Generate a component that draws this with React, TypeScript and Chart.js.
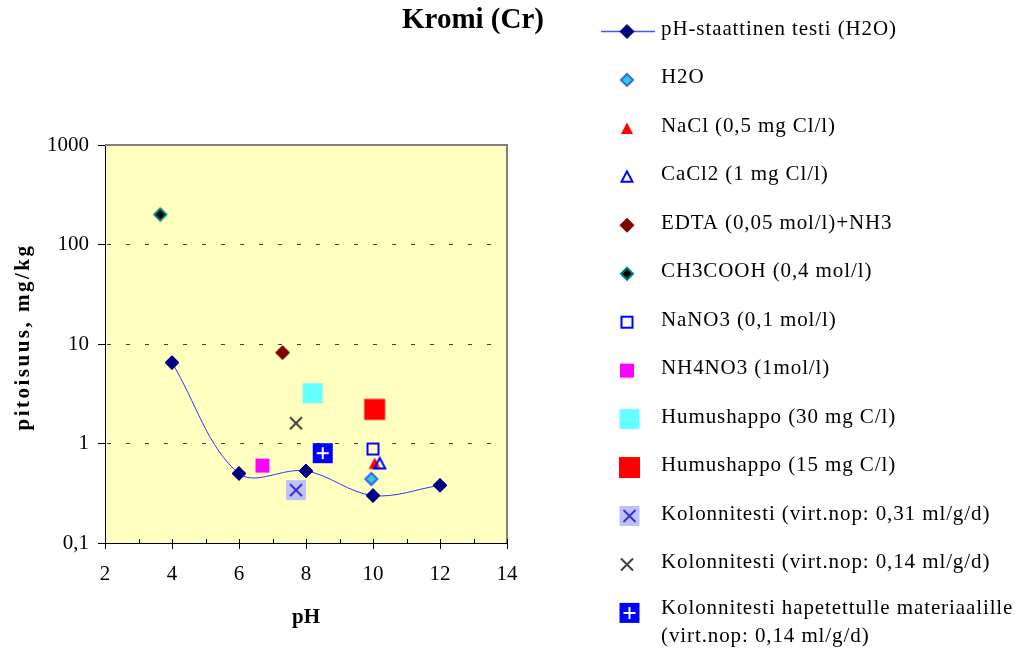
import React, { useEffect, useRef } from 'react';
import { Chart, registerables } from 'chart.js';

Chart.register(...registerables);

// ---------- data ----------
const chartTitle = 'Kromi (Cr)';
const xAxisTitle = 'pH';
const yAxisTitle = 'pitoisuus, mg/kg';

const xMin = 2;
const xMax = 14;
const xStep = 2;
const yTickValues = [0.1, 1, 10, 100, 1000];
const yTickLabels = ['0,1', '1', '10', '100', '1000'];

const staticLabel = 'pH-staattinen testi (H2O)';
const staticPH = [4, 6, 8, 10, 12];
const staticConc = [6.5, 0.5, 0.53, 0.3, 0.38];

const testLabels = [
  ['H2O'],
  ['NaCl (0,5 mg Cl/l)'],
  ['CaCl2 (1 mg Cl/l)'],
  ['EDTA (0,05 mol/l)+NH3'],
  ['CH3COOH (0,4 mol/l)'],
  ['NaNO3 (0,1 mol/l)'],
  ['NH4NO3 (1mol/l)'],
  ['Humushappo (30 mg C/l)'],
  ['Humushappo (15 mg C/l)'],
  ['Kolonnitesti (virt.nop: 0,31 ml/g/d)'],
  ['Kolonnitesti (virt.nop: 0,14 ml/g/d)'],
  ['Kolonnitesti hapetettulle materiaalille', '(virt.nop: 0,14 ml/g/d)'],
];
const testPH = [9.95, 10.05, 10.2, 7.3, 3.65, 10.0, 6.7, 8.2, 10.05, 7.7, 7.7, 8.5];
const testConc = [0.44, 0.63, 0.63, 8.2, 200, 0.88, 0.6, 3.2, 2.2, 0.34, 1.6, 0.8];

// ---------- styles ----------
const testMarkers = [
  'h2o', 'naclTri', 'cacl2Tri', 'edta', 'ch3cooh', 'nano3',
  'nh4no3', 'humus30', 'humus15', 'kol031', 'kol014', 'kolHap',
];
const bigMarkers = ['humus30', 'humus15', 'kol031', 'kolHap'];
const SERIF = '"Liberation Serif", "Times New Roman", serif';

function drawMarker(ctx: CanvasRenderingContext2D, kind: string, x: number, y: number) {
  ctx.save();
  ctx.setLineDash([]);
  const diamond = (r: number, fill: string, stroke?: string, lw?: number) => {
    ctx.beginPath();
    ctx.moveTo(x, y - r);
    ctx.lineTo(x + r, y);
    ctx.lineTo(x, y + r);
    ctx.lineTo(x - r, y);
    ctx.closePath();
    ctx.fillStyle = fill;
    ctx.fill();
    if (stroke) {
      ctx.lineWidth = lw || 1;
      ctx.strokeStyle = stroke;
      ctx.stroke();
    }
  };
  const square = (s: number, fill: string) => {
    ctx.fillStyle = fill;
    ctx.fillRect(x - s / 2, y - s / 2, s, s);
  };
  const openSquare = (s: number, stroke: string, lw: number) => {
    ctx.strokeStyle = stroke;
    ctx.lineWidth = lw;
    ctx.strokeRect(x - s / 2, y - s / 2, s, s);
  };
  const tri = (w: number, h: number, fill: string | null, stroke: string | null, lw: number) => {
    ctx.beginPath();
    ctx.moveTo(x, y - h / 2 - 0.5);
    ctx.lineTo(x + w / 2, y + h / 2);
    ctx.lineTo(x - w / 2, y + h / 2);
    ctx.closePath();
    if (fill) {
      ctx.fillStyle = fill;
      ctx.fill();
    }
    if (stroke) {
      ctx.lineWidth = lw;
      ctx.strokeStyle = stroke;
      ctx.lineJoin = 'miter';
      ctx.stroke();
    }
  };
  const cross = (s: number, color: string, lw: number) => {
    ctx.beginPath();
    ctx.moveTo(x - s / 2, y - s / 2);
    ctx.lineTo(x + s / 2, y + s / 2);
    ctx.moveTo(x + s / 2, y - s / 2);
    ctx.lineTo(x - s / 2, y + s / 2);
    ctx.strokeStyle = color;
    ctx.lineWidth = lw;
    ctx.stroke();
  };
  const plus = (s: number, color: string, lw: number) => {
    ctx.beginPath();
    ctx.moveTo(x - s / 2, y);
    ctx.lineTo(x + s / 2, y);
    ctx.moveTo(x, y - s / 2);
    ctx.lineTo(x, y + s / 2);
    ctx.strokeStyle = color;
    ctx.lineWidth = lw;
    ctx.stroke();
  };
  switch (kind) {
    case 'static':
      diamond(7, '#000080', '#000080', 1);
      break;
    case 'h2o':
      diamond(6, '#33CCCC', '#3366FF', 2);
      break;
    case 'naclTri':
      tri(12, 11, '#FF0000', null, 0);
      break;
    case 'cacl2Tri':
      tri(11, 10, null, '#0000FF', 2);
      break;
    case 'edta':
      diamond(7, '#800000', '#800000', 1);
      break;
    case 'ch3cooh':
      diamond(6, '#000000', '#008080', 2);
      break;
    case 'nano3':
      openSquare(11, '#0000FF', 2);
      break;
    case 'nh4no3':
      square(14, '#FF00FF');
      break;
    case 'humus30':
      square(20, '#66FFFF');
      break;
    case 'humus15':
      square(21, '#FF0000');
      break;
    case 'kol031':
      square(20, '#C0C0FF');
      cross(12, '#3333CC', 2);
      break;
    case 'kol014':
      cross(12, '#404040', 2);
      break;
    case 'kolHap':
      square(20, '#0000FF');
      plus(12, '#FFFFFF', 2);
      break;
  }
  ctx.restore();
}

function markerImage(kind: string): HTMLCanvasElement {
  const c = document.createElement('canvas');
  c.width = 28;
  c.height = 28;
  const cx = c.getContext('2d') as CanvasRenderingContext2D;
  drawMarker(cx, kind, 14, 14);
  return c;
}

const decorPlugin = {
  id: 'decor',
  beforeDraw(chart: any) {
    const { ctx, chartArea: a } = chart;
    ctx.save();
    ctx.fillStyle = '#FFFFC0';
    ctx.fillRect(a.left, a.top, a.right - a.left, a.bottom - a.top);
    ctx.restore();
  },
  beforeDatasetsDraw(chart: any) {
    const { ctx, chartArea: a, scales } = chart;
    ctx.save();
    ctx.setLineDash([]);
    ctx.strokeStyle = '#808080';
    ctx.lineWidth = 2;
    ctx.beginPath();
    ctx.moveTo(a.left, a.top);
    ctx.lineTo(a.right, a.top);
    ctx.lineTo(a.right, a.bottom);
    ctx.stroke();
    ctx.strokeStyle = '#000';
    ctx.lineWidth = 1;
    ctx.beginPath();
    for (let v = xMin; v <= xMax; v += 1) {
      const px = Math.round(scales.x.getPixelForValue(v)) + 0.5;
      ctx.moveTo(px, a.bottom - 4);
      ctx.lineTo(px, a.bottom);
    }
    ctx.stroke();
    ctx.restore();
  },
  afterDraw(chart: any) {
    const { ctx, chartArea: a } = chart;
    ctx.save();
    ctx.fillStyle = '#000';
    // title
    ctx.font = `bold 29px ${SERIF}`;
    ctx.textAlign = 'center';
    ctx.textBaseline = 'alphabetic';
    ctx.fillText(chartTitle, 473, 28);
    // x title
    ctx.font = `bold 21px ${SERIF}`;
    ctx.fillText(xAxisTitle, (a.left + a.right) / 2, 623);
    // y title
    ctx.save();
    ctx.translate(29, 337);
    ctx.rotate(-Math.PI / 2);
    (ctx as any).letterSpacing = '2.5px';
    ctx.fillText(yAxisTitle, 0, 0);
    ctx.restore();
    // legend
    ctx.textAlign = 'left';
    ctx.font = `21px ${SERIF}`;
    (ctx as any).letterSpacing = '0.9px';
    const rowY = (i: number) => 31.5 + i * 48.45;
    // static line entry
    const y0 = rowY(0);
    ctx.save();
    ctx.strokeStyle = '#4F4FFF';
    ctx.lineWidth = 1.5;
    ctx.beginPath();
    ctx.moveTo(601, y0);
    ctx.lineTo(655, y0);
    ctx.stroke();
    ctx.restore();
    drawMarker(ctx, 'static', 627, y0);
    ctx.fillStyle = '#000';
    ctx.fillText(staticLabel, 661, y0 + 3.5);
    testLabels.forEach((lines, i) => {
      const y = rowY(i + 1);
      const kind = testMarkers[i];
      const mx = bigMarkers.includes(kind) ? 629.5 : 627;
      drawMarker(ctx, kind, mx, y);
      ctx.fillStyle = '#000';
      const n = lines.length;
      lines.forEach((t, k) => {
        ctx.fillText(t, 661, y + 3.5 - (n - 1) * 2 + k * 28);
      });
    });
    ctx.restore();
  },
};

export default function App() {
  const canvasRef = useRef<HTMLCanvasElement | null>(null);

  useEffect(() => {
    document.body.style.margin = '0';
    const canvas = canvasRef.current;
    if (!canvas) return;
    Chart.defaults.font.family = SERIF;
    Chart.defaults.color = '#000';

    const datasets: any[] = [
      {
        label: staticLabel,
        data: staticPH.map((x, i) => ({ x, y: staticConc[i] })),
        showLine: true,
        borderColor: '#3333FF',
        borderWidth: 1,
        tension: 0.35,
        pointStyle: markerImage('static'),
        pointRadius: 8,
        order: testLabels.length + 1,
      },
      ...testLabels.map((lines, i) => ({
        label: lines.join(' '),
        data: [{ x: testPH[i], y: testConc[i] }],
        showLine: false,
        pointStyle: markerImage(testMarkers[i]),
        pointRadius: 10,
        order: testLabels.length - i,
      })),
    ];

    const chart = new Chart(canvas, {
      type: 'scatter',
      data: { datasets },
      options: {
        responsive: false,
        animation: false,
        events: [],
        layout: { padding: { left: 0, top: 145, right: 508, bottom: 0 } },
        plugins: {
          legend: { display: false },
          tooltip: { enabled: false },
          title: { display: false },
        },
        scales: {
          x: {
            type: 'linear',
            min: xMin,
            max: xMax,
            ticks: {
              stepSize: xStep,
              color: '#000',
              font: { size: 21, family: SERIF },
              padding: 13,
              maxRotation: 0,
            },
            grid: {
              drawOnChartArea: false,
              drawTicks: true,
              tickLength: 6,
              tickColor: '#000',
              tickWidth: 1,
            },
            border: { color: '#000', width: 1 },
            afterFit: (scale: any) => {
              scale.height = 105;
            },
          },
          y: {
            type: 'logarithmic',
            min: 0.1,
            max: 1000,
            afterBuildTicks: (scale: any) => {
              scale.ticks = yTickValues.map((v) => ({ value: v }));
            },
            ticks: {
              color: '#000',
              font: { size: 21, family: SERIF },
              padding: 9,
              autoSkip: false,
              callback: (v: any) => {
                const idx = yTickValues.findIndex((t) => Math.abs(t - Number(v)) < 1e-9);
                return idx >= 0 ? yTickLabels[idx] : '';
              },
            },
            grid: {
              color: (c: any) => {
                const v = c.tick ? c.tick.value : 0;
                return v > 0.5 && v < 500 ? '#404040' : 'rgba(0,0,0,0)';
              },
              lineWidth: 1,
              tickLength: 7,
              tickColor: '#000',
              tickWidth: 1,
              tickBorderDash: [],
            },
            border: { color: '#000', width: 1, dash: [4, 15], dashOffset: 18 },
            afterFit: (scale: any) => {
              scale.width = 105;
            },
          },
        },
      },
      plugins: [decorPlugin],
    } as any);

    return () => {
      chart.destroy();
    };
  }, []);

  return (
    <div style={{ position: 'absolute', left: 0, top: 0, width: 1015, height: 648 }}>
      <canvas ref={canvasRef} width={1015} height={648} style={{ display: 'block' }} />
    </div>
  );
}
